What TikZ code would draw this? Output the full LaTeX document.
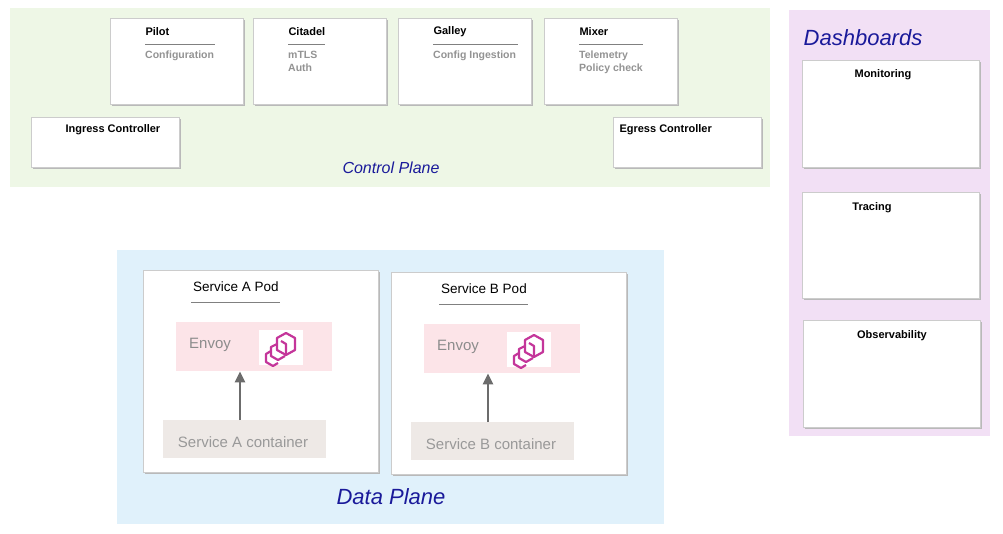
\documentclass[tikz,border=0pt]{standalone}
\usepackage{fontspec}
\setmainfont{Liberation Sans}
\usetikzlibrary{shadows,arrows.meta}
\definecolor{cpgreen}{HTML}{EEF7E6}
\definecolor{dpblue}{HTML}{E0F1FB}
\definecolor{dbpurple}{HTML}{F2E0F5}
\definecolor{envpink}{HTML}{FCE4E8}
\definecolor{contgray}{HTML}{EEE9E6}
\definecolor{titleblue}{HTML}{1A1A9A}
\definecolor{envmag}{HTML}{C4359A}

\begin{document}
\begin{tikzpicture}[x=1pt, y=-1pt,
    card/.style 2 args={draw=gray!40, fill=white, anchor=north west, inner sep=0pt,
        minimum width=#1pt, minimum height=#2pt,
        drop shadow={shadow xshift=1.5pt, shadow yshift=-1.5pt, fill=gray!55, opacity=1}},
    head/.style={anchor=west, font=\fontsize{11}{13}\selectfont\bfseries},
    sub/.style={anchor=north west, align=left, text=gray!85,
        font=\fontsize{10.5}{12.5}\selectfont\bfseries, inner sep=0pt},
    plane/.style={text=titleblue, font=\itshape},
    strip/.style={anchor=north west, inner sep=0pt, draw=none},
    rule/.style={gray, line width=0.8pt},
    up/.style={-{Triangle[length=11pt,width=10pt]}, gray!85!black, line width=2.4pt}
]
\useasboundingbox (0,0) rectangle (1003,534);
% zones
\fill[cpgreen] (10,8) rectangle (770,187);
\fill[dbpurple] (789,10) rectangle (990,436);
\fill[dpblue] (117,250) rectangle (664,524);

% control plane
\foreach \x/\w/\name/\title/\lines in {110/70/pilot/Pilot/Configuration,
    253/37/citadel/Citadel/{mTLS\\Auth}, 398/85/galley/Galley/Config Ingestion,
    544/64/mixer/Mixer/{Telemetry\\Policy check}} {
  \node[card={133}{86}] (\name) at (\x,18) {};
  \node[head] (\name-t) at (\x+32,32) {\title};
  \draw[rule] (\x+35,44) -- (\x+35+\w,44);
  \node[sub] (\name-s) at (\x+35,51) {\lines};
}
\node[card={148}{50}] (ingress) at (31,117) {};
\node[head] at (62,130) {Ingress Controller};
\node[card={148}{50}] (egress) at (613,117) {};
\node[head] at (616,130) {Egress Controller};
\node[plane, font=\itshape\fontsize{16}{18}\selectfont] (cp) at (391,168) {Control Plane};

% dashboards
\node[plane, font=\itshape\fontsize{22}{24}\selectfont] (db) at (863,38) {Dashboards};
\node[card={177}{107}] (mon) at (802,60) {};
\node[head, anchor=center] at (883,75) {Monitoring};
\node[card={177}{106}] (trc) at (802,192) {};
\node[head, anchor=center] at (872,208) {Tracing};
\node[card={177}{107}] (obs) at (803,320) {};
\node[head, anchor=center] at (892,336) {Observability};

% data plane
\foreach \x/\y/\s in {143/270/A, 391/272/B} {
  \node[card={235}{202}] (pod\s) at (\x,\y) {};
  \node[anchor=center, font=\fontsize{13.5}{15}\selectfont] at (\x+93,\y+17) {Service \s\ Pod};
  \draw[rule] (\x+48,\y+32) -- (\x+137,\y+32);
  \node[strip, fill=envpink, minimum width=156pt, minimum height=49pt] (env\s) at (\x+33,\y+52) {};
  \node[anchor=center, text=gray!90, font=\fontsize{15}{17}\selectfont] at (\x+67,\y+75) {Envoy};
  \fill[white] (\x+116,\y+60) rectangle (\x+160,\y+95);
  \begin{scope}[shift={(\x+137,\y+77)}, envmag, line width=2.2pt, line join=round]
    \draw (-9,4) -- (-14,7) -- (-14,15) -- (-7,19) -- (-2,16);
    \draw (-3,-3) -- (-9,0) -- (-9,9) -- (-2,13) -- (5,9);
    \draw (6,-14) -- (15,-9) -- (15,3) -- (6,8) -- (-3,3) -- (-3,-9) -- cycle;
    \draw (1,-6) -- (6,-3) -- (6,8);
  \end{scope}
  \node[strip, fill=contgray, minimum width=163pt, minimum height=38pt] (box\s) at (\x+20,\y+150) {};
  \node[anchor=center, text=gray!80, font=\fontsize{15}{17}\selectfont] at (\x+100,\y+172) {Service \s\ container};
  \coordinate (tail\s) at (\x+97,\y+150);
  \draw[up] (tail\s) -- (tail\s |- env\s.south);
}
\node[plane, font=\itshape\fontsize{22}{24}\selectfont] (dp) at (391,497) {Data Plane};
\end{tikzpicture}
\end{document}
